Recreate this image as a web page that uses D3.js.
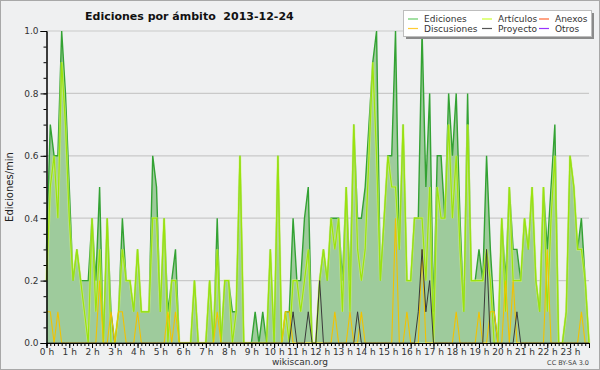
<!DOCTYPE html>
<html>
<head>
<meta charset="utf-8">
<script src="https://cdn.jsdelivr.net/npm/d3@7/dist/d3.min.js"></script>
<style>
  body { margin: 0; background: #fff; }
  svg { display: block; font-family: "DejaVu Sans", sans-serif; }
</style>
</head>
<body>
<div id="chart"></div>
<script>
// values are edits per minute, one point every 10 minutes (0:00 .. 23:50)
var ediciones = [
  0.3,0.7,0.6,0.6,1.0,0.8,0.5,0.2,0.3,0.2,
  0.2,0.2,0.4,0.2,0.5,0.0,0.4,0.1,0.0,0.1,
  0.4,0.2,0.2,0.1,0.3,0.1,0.1,0.1,0.6,0.5,
  0.1,0.4,0.1,0.2,0.3,0.0,0.0,0.0,0.0,0.2,
  0.0,0.0,0.0,0.2,0.0,0.4,0.0,0.2,0.2,0.1,
  0.1,0.6,0.0,0.0,0.0,0.1,0.0,0.1,0.0,0.3,
  0.0,0.6,0.0,0.1,0.1,0.4,0.2,0.2,0.4,0.5,
  0.0,0.0,0.2,0.3,0.2,0.4,0.4,0.4,0.2,0.5,
  0.2,0.7,0.4,0.4,0.5,0.7,0.9,1.0,0.2,0.4,
  0.6,0.6,1.0,0.3,0.7,0.2,0.2,0.4,0.4,1.0,
  0.5,0.8,0.1,0.6,0.6,0.4,0.8,0.6,0.8,0.4,
  0.1,0.8,0.2,0.2,0.3,0.2,0.6,0.3,0.1,0.0,
  0.4,0.2,0.5,0.3,0.3,0.2,0.4,0.3,0.5,0.2,
  0.1,0.5,0.3,0.5,0.7,0.0,0.0,0.1,0.6,0.5,
  0.3,0.4,0.2,0.0
];
var articulos = [
  0.2,0.5,0.6,0.4,0.9,0.7,0.4,0.2,0.3,0.2,
  0.1,0.0,0.4,0.1,0.3,0.0,0.4,0.0,0.0,0.1,
  0.3,0.2,0.2,0.1,0.3,0.1,0.1,0.1,0.4,0.4,
  0.1,0.4,0.0,0.2,0.2,0.0,0.0,0.0,0.0,0.2,
  0.0,0.0,0.0,0.2,0.0,0.3,0.0,0.2,0.2,0.0,
  0.1,0.6,0.0,0.0,0.0,0.0,0.0,0.0,0.0,0.3,
  0.0,0.6,0.0,0.1,0.0,0.2,0.2,0.1,0.2,0.3,
  0.0,0.0,0.2,0.3,0.2,0.4,0.3,0.4,0.1,0.5,
  0.1,0.7,0.3,0.2,0.3,0.6,0.9,0.6,0.2,0.4,
  0.6,0.5,0.5,0.3,0.7,0.2,0.2,0.4,0.4,0.4,
  0.2,0.5,0.0,0.5,0.4,0.4,0.7,0.4,0.6,0.3,
  0.1,0.7,0.2,0.2,0.2,0.2,0.3,0.2,0.0,0.0,
  0.4,0.1,0.5,0.2,0.2,0.2,0.4,0.3,0.5,0.2,
  0.1,0.5,0.1,0.4,0.6,0.0,0.0,0.1,0.6,0.5,
  0.3,0.3,0.2,0.0
];
var discusiones = [
  0.1,0.1,0.0,0.1,0.0,0.0,0.0,0.0,0.0,0.0,
  0.0,0.0,0.0,0.0,0.2,0.0,0.0,0.1,0.0,0.1,
  0.1,0.0,0.0,0.0,0.1,0.0,0.0,0.0,0.0,0.0,
  0.0,0.0,0.1,0.0,0.1,0.0,0.0,0.0,0.0,0.0,
  0.0,0.0,0.0,0.0,0.0,0.1,0.0,0.0,0.0,0.0,
  0.0,0.0,0.0,0.0,0.0,0.0,0.0,0.0,0.0,0.0,
  0.0,0.0,0.0,0.1,0.1,0.0,0.0,0.0,0.0,0.0,
  0.0,0.0,0.0,0.0,0.0,0.0,0.1,0.0,0.0,0.0,
  0.1,0.0,0.0,0.1,0.0,0.0,0.0,0.0,0.0,0.0,
  0.0,0.0,0.4,0.0,0.0,0.1,0.0,0.0,0.0,0.3,
  0.0,0.0,0.0,0.0,0.0,0.0,0.0,0.0,0.1,0.0,
  0.0,0.0,0.0,0.0,0.1,0.0,0.0,0.1,0.1,0.0,
  0.0,0.2,0.0,0.2,0.0,0.0,0.0,0.0,0.0,0.0,
  0.0,0.0,0.3,0.0,0.0,0.0,0.0,0.0,0.0,0.0,
  0.0,0.1,0.0,0.0
];
var proyecto = [
  0,0,0,0,0,0,0,0,0,0,
  0,0,0,0,0,0,0,0,0,0,
  0,0,0,0,0,0,0,0,0,0,
  0,0,0,0,0,0,0,0,0,0,
  0,0,0,0,0,0,0,0,0,0,
  0,0,0,0,0,0,0,0,0,0,
  0,0,0,0,0,0.1,0,0,0,0.1,
  0,0,0.2,0,0,0,0,0,0,0,
  0,0,0.1,0,0,0,0,0,0,0,
  0,0,0,0,0,0,0,0,0.1,0.3,
  0.1,0.2,0,0,0,0,0,0,0,0,
  0,0,0,0,0,0,0.3,0,0,0,
  0,0,0,0,0.1,0,0,0,0,0,
  0,0,0,0,0,0,0,0,0,0,
  0,0,0,0
];
var yTicks = [0, 0.2, 0.4, 0.6, 0.8, 1.0];
var hours = d3.range(0, 24);
var legendItems = [
  {name: "Ediciones",   color: "#66cc66"},
  {name: "Discusiones", color: "#ffcc33"},
  {name: "Artículos",   color: "#ccff33"},
  {name: "Proyecto",    color: "#555555"},
  {name: "Anexos",      color: "#ff6633"},
  {name: "Otros",       color: "#9933ff"}
];

var W = 600, H = 370;
var margin = {top: 31, right: 11, bottom: 27, left: 46.5};

var svg = d3.select("#chart").append("svg")
    .attr("width", W)
    .attr("height", H);

// background + frame
svg.append("rect")
    .attr("x", 0.5).attr("y", 0.5)
    .attr("width", W - 1).attr("height", H - 1)
    .attr("fill", "#eff0f1")
    .attr("stroke", "#a8a8a8");

var x = d3.scaleLinear()
    .domain([0, 1430])
    .range([margin.left, W - margin.right]);
var y = d3.scaleLinear()
    .domain([0, 1])
    .range([H - margin.bottom, margin.top]);

function pts(arr) {
  return arr.map(function(v, i) { return {t: i * 10, v: v}; });
}

// grid lines
svg.append("g")
  .selectAll("line")
  .data(yTicks.slice(1))
  .enter().append("line")
    .attr("x1", x(0)).attr("x2", x(1430))
    .attr("y1", function(d) { return y(d); })
    .attr("y2", function(d) { return y(d); })
    .attr("stroke", "#c9c9c9")
    .attr("stroke-width", 1.2);

var line = d3.line()
    .x(function(d) { return x(d.t); })
    .y(function(d) { return y(d.v); });
var area = d3.area()
    .x(function(d) { return x(d.t); })
    .y0(y(0))
    .y1(function(d) { return y(d.v); });

// Ediciones area + edge
svg.append("path")
    .datum(pts(ediciones))
    .attr("d", area)
    .attr("fill", "#9ecb9c");
svg.append("path")
    .datum(pts(ediciones))
    .attr("d", line)
    .attr("fill", "none")
    .attr("stroke", "#33a233")
    .attr("stroke-width", 1.4);

// Artículos, with a faint halo
svg.append("path")
    .datum(pts(articulos))
    .attr("d", line)
    .attr("fill", "none")
    .attr("stroke", "#d4f57a")
    .attr("stroke-opacity", 0.6)
    .attr("stroke-width", 2.6);
svg.append("path")
    .datum(pts(articulos))
    .attr("d", line)
    .attr("fill", "none")
    .attr("stroke", "#9be30c")
    .attr("stroke-width", 1.2);

svg.append("path")
    .datum(pts(discusiones))
    .attr("d", line)
    .attr("fill", "none")
    .attr("stroke", "#f2c200")
    .attr("stroke-width", 1.1);

svg.append("path")
    .datum(pts(proyecto))
    .attr("d", line)
    .attr("fill", "none")
    .attr("stroke", "#3a3a3a")
    .attr("stroke-width", 1);

// y axis
var yAxis = svg.append("g")
    .attr("transform", "translate(" + margin.left + ",0)");
yAxis.call(d3.axisLeft(y).tickValues(d3.range(0, 1.0001, 0.05)).tickSize(3).tickFormat(""));
yAxis.append("g").call(d3.axisLeft(y).tickValues(yTicks).tickSize(6)
    .tickFormat(d3.format(".1f")));
yAxis.selectAll(".domain").attr("stroke", "#000");
yAxis.selectAll("line").attr("stroke", "#000");
yAxis.selectAll("text")
    .attr("font-size", 9)
    .attr("fill", "#333")
    .attr("font-family", "DejaVu Sans, sans-serif")
    .attr("x", -8);

// x axis
var xAxis = svg.append("g")
    .attr("transform", "translate(0," + y(0) + ")");
xAxis.call(d3.axisBottom(x).tickValues(d3.range(0, 1431, 10)).tickSize(3).tickFormat(""));
xAxis.append("g").call(d3.axisBottom(x).tickValues(hours.map(function(h) { return h * 60; }))
    .tickSize(5)
    .tickFormat(function(d) { return (d / 60) + " h"; }));
xAxis.selectAll(".domain").attr("stroke", "#000");
xAxis.selectAll("line").attr("stroke", "#000");
xAxis.selectAll("text")
    .attr("font-size", 9)
    .attr("fill", "#333")
    .attr("font-family", "DejaVu Sans, sans-serif")
    .attr("y", 6);

// titles
svg.append("text")
    .attr("x", 85).attr("y", 20)
    .attr("font-size", 11)
    .attr("font-weight", "bold")
    .attr("fill", "#111")
    .style("white-space", "pre")
    .text("Ediciones por ámbito  2013-12-24");

svg.append("text")
    .attr("transform", "translate(13," + ((y(0) + y(1)) / 2) + ") rotate(-90)")
    .attr("text-anchor", "middle")
    .attr("font-size", 10)
    .attr("fill", "#222")
    .text("Ediciones/min");

svg.append("text")
    .attr("x", 300).attr("y", 365)
    .attr("text-anchor", "middle")
    .attr("font-size", 9)
    .attr("fill", "#333")
    .text("wikiscan.org");

svg.append("text")
    .attr("x", 589).attr("y", 365)
    .attr("text-anchor", "end")
    .attr("font-size", 6.5)
    .attr("fill", "#444")
    .text("CC BY-SA 3.0");

// legend
var lg = svg.append("g");
lg.append("rect")
    .attr("x", 406).attr("y", 13)
    .attr("width", 188).attr("height", 26)
    .attr("fill", "#8a8a8a");
lg.append("rect")
    .attr("x", 403.5).attr("y", 10.5)
    .attr("width", 188).attr("height", 26)
    .attr("fill", "#fff")
    .attr("stroke", "#bdbdbd");

var colX = [408, 482, 539];
var rowY = [19, 28.5];
var item = lg.selectAll(".item")
    .data(legendItems)
    .enter().append("g")
    .attr("class", "item")
    .attr("transform", function(d, i) {
      return "translate(" + colX[Math.floor(i / 2)] + "," + rowY[i % 2] + ")";
    });
item.append("line")
    .attr("x1", 0).attr("x2", 10)
    .attr("stroke", function(d) { return d.color; })
    .attr("stroke-width", 1.2);
item.append("text")
    .attr("x", 16).attr("y", 3.2)
    .attr("font-size", 9)
    .attr("fill", "#333")
    .text(function(d) { return d.name; });
</script>
</body>
</html>
